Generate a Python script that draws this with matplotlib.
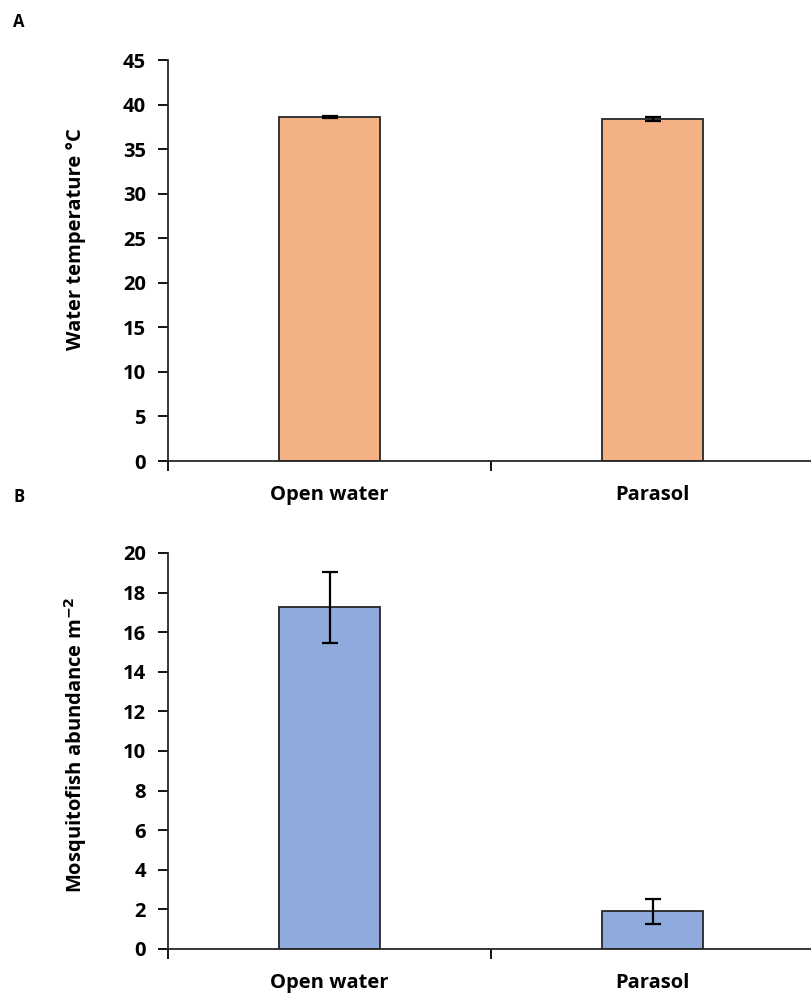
import matplotlib
matplotlib.use("Agg")
import matplotlib.pyplot as plt
import numpy as np

plt.rcParams['font.family'] = ['Open Sans', 'DejaVu Sans']

categories = ["Open water", "Parasol"]
temp_values = [38.6, 38.4]
temp_err = [0.1, 0.2]
fish_values = [17.25, 1.9]
fish_err = [1.8, 0.62]

W, H = 811, 1001
fig = plt.figure(figsize=(W / 100, H / 100), dpi=100)

def panel(top, bottom, values, errs, color, ymax, ystep, ylabel, letter, letter_y, label_center):
    left, right = 168, 814
    ax = fig.add_axes([left / W, 1 - bottom / H, (right - left) / W, (bottom - top) / H])
    x = np.arange(len(categories))
    ax.bar(x, values, width=0.31, color=color, edgecolor='#262626', linewidth=1.3, zorder=2)
    ax.errorbar(x, values, yerr=errs, fmt='none', ecolor='black', elinewidth=1.6,
                capsize=5.5, capthick=1.6, zorder=3)
    ax.set_xlim(-0.5, 1.5)
    ax.set_ylim(0, ymax)
    ax.set_yticks(np.arange(0, ymax + 0.01, ystep))
    ax.set_xticks(x)
    ax.set_xticklabels(categories, fontsize=14.5, fontweight='bold')
    ax.set_xticks([-0.5, 0.5, 1.5], minor=True)
    ax.tick_params(axis='x', which='major', length=0, pad=17)
    ax.tick_params(axis='x', which='minor', length=7, width=1.3, direction='out')
    ax.tick_params(axis='y', length=7, width=1.3, direction='out', labelsize=14.5, pad=9)
    for lab in ax.get_yticklabels():
        lab.set_fontweight('bold')
    for s in ['top', 'right']:
        ax.spines[s].set_visible(False)
    for s in ['left', 'bottom']:
        ax.spines[s].set_linewidth(1.3)
        ax.spines[s].set_color('#262626')
    fig.text(76 / W, 1 - label_center / H, ylabel, rotation=90, ha='center', va='center',
             fontsize=14.5, fontweight='bold')
    fig.text(19 / W, 1 - letter_y / H, letter, ha='center', va='center',
             fontsize=12, fontweight='bold')
    return ax

panel(60, 461, temp_values, temp_err, '#F4B183', 45, 5,
      'Water temperature °C', 'A', 22, 239)
panel(553, 949, fish_values, fish_err, '#8FAADC', 20, 2,
      'Mosquitofish abundance m$^{\\mathbf{-2}}$', 'B', 497, 745)

fig.savefig('out.png', dpi=100)
